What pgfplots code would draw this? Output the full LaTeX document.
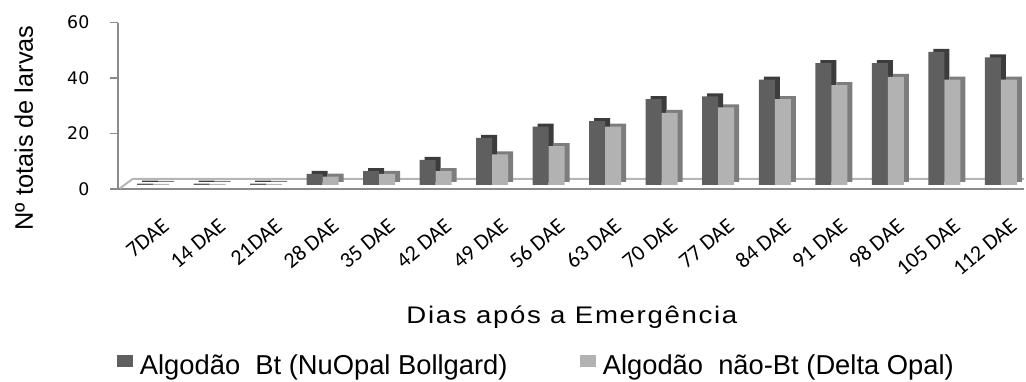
\documentclass[border=0pt]{standalone}
\usepackage{pgfplots}
\pgfplotsset{compat=1.18}
\usepackage{pgfplotstable}
\usepackage{fontspec}
\setmainfont{Liberation Sans}
\newfontfamily\tickfont{DejaVu Sans}
\newfontfamily\xtickfont{Carlito}
\newfontfamily\xlabfont{Liberation Sans}[FakeStretch=1.15, LetterSpace=7]
\definecolor{dkf}{HTML}{5F5F5F}
\definecolor{dkd}{HTML}{3C3C3C}
\definecolor{ltf}{HTML}{B2B2B2}
\definecolor{ltd}{HTML}{7D7D7D}
\definecolor{axc}{HTML}{8A8A8A}
\definecolor{flc}{HTML}{B6B6B6}
\pgfplotstableread{
x bt nbt
0 0.5 0.4
1 0.5 0.4
2 0.5 0.4
3 4 3
4 5 4
5 9 5
6 17 11
7 21 14
8 23 21
9 31 26
10 32 28
11 38 31
12 44 36
13 44 39
14 48 38
15 46 38
}\data
\begin{document}
\begin{tikzpicture}
\begin{axis}[
  scale only axis,
  width=679.5pt, height=124.7pt,
  xmin=-0.62, xmax=15.41,
  ymin=0, ymax=60,
  ytick={0,20,40,60},
  xtick={0,...,15},
  xticklabels={7DAE,14 DAE,21DAE,28 DAE,35 DAE,42 DAE,49 DAE,56 DAE,63 DAE,70 DAE,77 DAE,84 DAE,91 DAE,98 DAE,105 DAE,112 DAE},
  axis lines=left,
  axis line style={-, draw=axc, line width=1.2pt},
  x axis line style={line width=2pt},
  tick align=outside,
  ytick style={draw=axc, line width=1pt},
  major tick length=6pt,
  xtick style={draw=none},
  /pgf/number format/assume math mode=true,
  yticklabel style={font=\tickfont\fontsize{13}{15}\selectfont, text=black, xshift=-12pt},
  xticklabel style={font=\xtickfont\fontsize{16.5}{18}\selectfont, rotate=40, anchor=east, xshift=-4pt, yshift=-21pt, inner sep=1pt},
  xlabel={Dias após a Emergência},
  xlabel style={font=\xlabfont\fontsize{18}{20}\selectfont, at={(axis description cs:0.501,-0.77)}, anchor=center},
  ylabel={Nº totais de larvas},
  ylabel style={font=\fontsize{19}{21}\selectfont, at={(axis description cs:-0.104,0.367)}, anchor=center, rotate=0},
  clip=false,
  legend columns=2,
  legend style={draw=none, font=\fontsize{20.5}{23}\selectfont, at={(axis description cs:0.462,-1.06)}, anchor=center,
    /tikz/every even column/.append style={column sep=52pt}},
  legend image code/.code={\fill[#1] (0pt,-4.5pt) rectangle (12pt,4.5pt);},
]
% floor of the 3D chart
\draw[flc, line width=1.5pt] ([xshift=1.5pt,yshift=0.5pt]rel axis cs:0,0) -- ([xshift=11pt,yshift=7.5pt]rel axis cs:0,0) -- ([yshift=7.5pt]rel axis cs:1,0);
% depth faces
\addplot[ybar, bar width=12pt, bar shift=-6pt, fill=dkd, draw=none, xshift=3.75pt, yshift=5.25pt, forget plot] table[x=x,y=bt]{\data};
\addplot[ybar, bar width=12pt, bar shift=-6pt, fill=dkf, draw=none, yshift=3pt] table[x=x,y=bt]{\data};
\addlegendentry{\,Algodão\ \ Bt (NuOpal Bollgard)}
\addplot[ybar, bar width=12pt, bar shift=6pt, fill=ltd, draw=none, xshift=3.75pt, yshift=5.25pt, forget plot] table[x=x,y=nbt]{\data};
\addplot[ybar, bar width=12pt, bar shift=6pt, fill=ltf, draw=none, yshift=3pt] table[x=x,y=nbt]{\data};
\addlegendentry{\,Algodão\ \ não-Bt (Delta Opal)}
\path (rel axis cs:0,0) ++(-88.5pt,-140.25pt) rectangle ([shift={(1.5pt,17pt)}]rel axis cs:1,1);
\end{axis}
\end{tikzpicture}
\end{document}
